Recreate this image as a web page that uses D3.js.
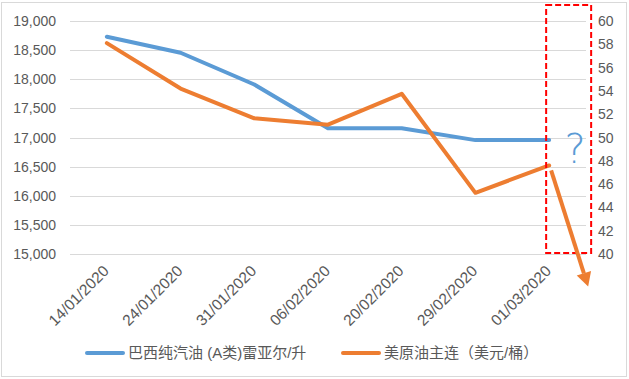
<!DOCTYPE html>
<html>
<head>
<meta charset="utf-8">
<script src="https://cdn.jsdelivr.net/npm/d3@7"></script>
<style>
  body { margin: 0; background: #fff; }
  text { font-family: "Liberation Sans", "Noto Sans CJK SC", sans-serif; fill: #595959; }
</style>
</head>
<body>
<div id="chart"></div>
<script>
// data
const dates = ["14/01/2020", "24/01/2020", "31/01/2020", "06/02/2020", "20/02/2020", "29/02/2020", "01/03/2020"];
const gasoline = [18730, 18455, 17910, 17160, 17160, 16955, 16955];   // 巴西纯汽油 (left axis)
const crude = [58.1, 54.2, 51.65, 51.1, 53.75, 45.25, 47.6];            // 美原油主连 (right axis)
const leftTicks = [15000, 15500, 16000, 16500, 17000, 17500, 18000, 18500, 19000];
const rightTicks = [40, 42, 44, 46, 48, 50, 52, 54, 56, 58, 60];
const seriesNames = ["巴西纯汽油 (A类)雷亚尔/升", "美原油主连（美元/桶）"];
const colors = ["#5b9bd5", "#ed7d31"];

const width = 629, height = 379,
    margin = {top: 21, bottom: 125, left: 70, right: 43};

const svg = d3.select("#chart")
    .append("svg")
    .attr("width", width)
    .attr("height", height);

// chart frame
svg.append("rect")
    .attr("x", 1.5).attr("y", 2.5)
    .attr("width", 625).attr("height", 374)
    .attr("fill", "#fff")
    .attr("stroke", "#d9d9d9");

const xScale = d3.scaleBand()
    .domain(dates)
    .range([margin.left, width - margin.right]);
const xc = d => xScale(d) + xScale.bandwidth() / 2;

const yLeft = d3.scaleLinear()
    .domain([15000, 19000])
    .range([height - margin.bottom, margin.top]);

const yRight = d3.scaleLinear()
    .domain([40, 60])
    .range([height - margin.bottom, margin.top]);

// gridlines
svg.selectAll(".grid")
    .data(leftTicks)
    .join("line")
    .attr("class", "grid")
    .attr("x1", margin.left)
    .attr("x2", width - margin.right)
    .attr("y1", d => Math.round(yLeft(d)) + 0.5)
    .attr("y2", d => Math.round(yLeft(d)) + 0.5)
    .attr("stroke", "#d9d9d9");

// left tick labels
svg.selectAll(".ltick")
    .data(leftTicks)
    .join("text")
    .attr("class", "ltick")
    .attr("x", margin.left - 14)
    .attr("y", d => yLeft(d))
    .attr("dy", "0.36em")
    .attr("text-anchor", "end")
    .style("font-size", "14px")
    .text(d => d3.format(",")(d));

// right tick labels
svg.selectAll(".rtick")
    .data(rightTicks)
    .join("text")
    .attr("class", "rtick")
    .attr("x", width - margin.right + 12)
    .attr("y", d => yRight(d))
    .attr("dy", "0.36em")
    .style("font-size", "14px")
    .text(d => d);

// x labels
svg.selectAll(".xlab")
    .data(dates)
    .join("text")
    .attr("class", "xlab")
    .attr("text-anchor", "end")
    .attr("transform", d => `translate(${xc(d) + 3},${height - margin.bottom + 18}) rotate(-45)`)
    .style("font-size", "15.5px")
    .text(d => d);

// lines
const lineL = d3.line().x((d, i) => xc(dates[i])).y(d => yLeft(d));
const lineR = d3.line().x((d, i) => xc(dates[i])).y(d => yRight(d));

svg.append("path")
    .attr("d", lineL(gasoline))
    .attr("fill", "none")
    .attr("stroke", colors[0])
    .attr("stroke-width", 4)
    .attr("stroke-linejoin", "round")
    .attr("stroke-linecap", "round");

svg.append("path")
    .attr("d", lineR(crude))
    .attr("fill", "none")
    .attr("stroke", colors[1])
    .attr("stroke-width", 4)
    .attr("stroke-linejoin", "round")
    .attr("stroke-linecap", "round");

// annotations
const last = dates[dates.length - 1];
svg.append("rect")
    .attr("x", xc(last) - 3)
    .attr("y", margin.top - 16)
    .attr("width", 45)
    .attr("height", height - margin.bottom - margin.top + 15)
    .attr("fill", "none")
    .attr("stroke", "#ff0000")
    .attr("stroke-width", 2)
    .attr("stroke-dasharray", "6,3");

svg.append("text")
    .attr("x", xc(last) + 26)
    .attr("y", yLeft(gasoline[gasoline.length - 1]) + 23)
    .attr("text-anchor", "middle")
    .style("font-size", "40px")
    .style("fill", colors[0])
    .style("font-family", "'DejaVu Sans', sans-serif")
    .style("font-weight", "200")
    .text("?");

const ax0 = xc(last) + 2, ay0 = yRight(crude[crude.length - 1]) + 5;
const ax1 = xc(last) + 39, ay1 = yRight(37.2);
const ang = Math.atan2(ay1 - ay0, ax1 - ax0);
const headLen = 14, headW = 7.5;
const bx = ax1 - headLen * Math.cos(ang), by = ay1 - headLen * Math.sin(ang);
svg.append("line")
    .attr("x1", ax0).attr("y1", ay0)
    .attr("x2", bx).attr("y2", by)
    .attr("stroke", colors[1])
    .attr("stroke-width", 4);
svg.append("path")
    .attr("d", d3.line()([
        [ax1, ay1],
        [bx + headW * Math.sin(ang), by - headW * Math.cos(ang)],
        [bx - headW * Math.sin(ang), by + headW * Math.cos(ang)]
    ]))
    .attr("fill", colors[1]);

// legend
const legendX = [87, 343];
const legend = svg.selectAll(".legend")
    .data(seriesNames)
    .join("g")
    .attr("class", "legend")
    .attr("transform", (d, i) => `translate(${legendX[i]},353)`);
legend.append("line")
    .attr("x1", 0).attr("x2", 36)
    .attr("stroke", (d, i) => colors[i])
    .attr("stroke-width", 4)
    .attr("stroke-linecap", "round");
legend.append("text")
    .attr("x", 41)
    .attr("dy", "0.36em")
    .style("font-size", "15px")
    .text(d => d);
</script>
</body>
</html>
